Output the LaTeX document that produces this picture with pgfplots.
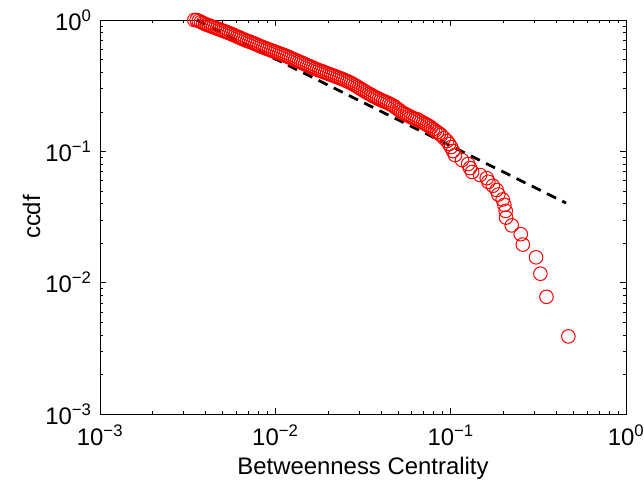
\documentclass[border=0pt]{standalone}
\usepackage{fontspec}
\setmainfont{Liberation Sans}
\usepackage{pgfplots}
\pgfplotsset{compat=1.18}
\newcommand\pw[1]{10\textsuperscript{#1}}
\begin{document}
\begin{tikzpicture}
\path[use as bounding box] (-100bp,-73bp) rectangle (544bp,414bp);
\begin{axis}[
  at={(0,0)}, anchor=south west,
  scale only axis, width=526bp, height=394bp,
  xmode=log, ymode=log,
  xmin=1e-3, xmax=1, ymin=1e-3, ymax=1,
  xtick={1e-3,1e-2,1e-1,1},
  ytick={1e-3,1e-2,1e-1,1},
  xticklabels={\pw{−3},\pw{−2},\pw{−1},\pw{0}},
  yticklabels={\pw{−3},\pw{−2},\pw{−1},\pw{0}},
  minor xtick={2e-3,3e-3,4e-3,5e-3,6e-3,7e-3,8e-3,9e-3,
               2e-2,3e-2,4e-2,5e-2,6e-2,7e-2,8e-2,9e-2,
               0.2,0.3,0.4,0.5,0.6,0.7,0.8,0.9},
  minor ytick={2e-3,3e-3,4e-3,5e-3,6e-3,7e-3,8e-3,9e-3,
               2e-2,3e-2,4e-2,5e-2,6e-2,7e-2,8e-2,9e-2,
               0.2,0.3,0.4,0.5,0.6,0.7,0.8,0.9},
  tick align=inside,
  major tick length=6bp, minor tick length=3.5bp,
  tick style={black, line width=0.6bp},
  axis line style={black, line width=0.8bp},
  ticklabel style={font=\fontsize{24}{28}\selectfont},
  xticklabel style={yshift=-7bp},
  yticklabel style={xshift=-5bp},
  label style={font=\fontsize{24}{28}\selectfont},
  xlabel={Betweenness Centrality},
  xlabel style={yshift=-5bp},
  ylabel={ccdf},
  ylabel style={yshift=-2bp},
  clip=false,
]
% empirical ccdf of betweenness centrality
\addplot[only marks, mark=o, mark size=6.8bp, red, mark options={line width=1bp}]
coordinates {
(0.00345,1.0)
(0.00356,1.0) (0.00366,0.985) (0.00377,0.9655) (0.00387,0.948) (0.00397,0.9323)
(0.00408,0.920) (0.00419,0.9080) (0.00430,0.896) (0.00441,0.8845) (0.00453,0.873)
(0.00465,0.8615) (0.00477,0.850) (0.00490,0.8391) (0.00503,0.828) (0.00517,0.8173)
(0.00530,0.806) (0.00544,0.7962) (0.00559,0.784) (0.00574,0.7727) (0.00589,0.761)
(0.00605,0.7487) (0.00621,0.738) (0.00637,0.7268) (0.00654,0.715) (0.00672,0.7042)
(0.00690,0.695) (0.00708,0.6859) (0.00727,0.677) (0.00746,0.6680) (0.00766,0.658)
(0.00786,0.6484) (0.00807,0.638) (0.00829,0.6283) (0.00851,0.620) (0.00873,0.6119)
(0.00897,0.604) (0.00921,0.5960) (0.00945,0.588) (0.00970,0.5805) (0.00996,0.573)
(0.01023,0.5655) (0.01050,0.558) (0.01078,0.5508) (0.01107,0.544) (0.01136,0.5365)
(0.01166,0.529) (0.01197,0.5208) (0.01229,0.513) (0.01262,0.5047) (0.01296,0.497)
(0.01330,0.4898) (0.01366,0.482) (0.01402,0.4746) (0.01439,0.468) (0.01477,0.4606)
(0.01517,0.453) (0.01557,0.4463) (0.01598,0.440) (0.01641,0.4332) (0.01684,0.426)
(0.01729,0.4198) (0.01776,0.414) (0.01823,0.4089) (0.01871,0.404) (0.01921,0.3983)
(0.01972,0.393) (0.02025,0.3879) (0.02079,0.383) (0.02134,0.3778) (0.02191,0.373)
(0.02249,0.3680) (0.02309,0.363) (0.02371,0.3584) (0.02434,0.353) (0.02498,0.3479)
(0.02565,0.342) (0.02633,0.3371) (0.02703,0.331) (0.02775,0.3243) (0.02849,0.318)
(0.02925,0.3114) (0.03003,0.305) (0.03083,0.2981) (0.03165,0.292) (0.03249,0.2853)
(0.03336,0.280) (0.03424,0.2746) (0.03516,0.269) (0.03609,0.2637) (0.03705,0.259)
(0.03804,0.2546) (0.03905,0.250) (0.04009,0.2458) (0.04116,0.242) (0.04225,0.2386)
(0.04338,0.235) (0.04453,0.2312) (0.04572,0.227) (0.04693,0.2232) (0.04818,0.217)
(0.04946,0.2118) (0.05078,0.206) (0.05213,0.2009) (0.05352,0.196) (0.05494,0.1923)
(0.05640,0.189) (0.05790,0.1857) (0.05944,0.182) (0.06102,0.1793) (0.06265,0.177)
(0.06431,0.1756) (0.06602,0.172) (0.06778,0.1686) (0.06958,0.165) (0.07145,0.1622)
(0.07335,0.159) (0.07530,0.1558) (0.07730,0.152) (0.07936,0.1478) (0.08148,0.144)
(0.08364,0.1403) (0.08587,0.137) (0.08815,0.1331) (0.09169,0.1263) (0.09539,0.1198)
(0.09792,0.1137) (0.1005,0.1078) (0.1032,0.1005) (0.1059,0.0937) (0.1161,0.0858)
(0.1257,0.0800) (0.1290,0.0746) (0.1325,0.0696) (0.1472,0.0660) (0.1607,0.0625)
(0.164,0.0586) (0.174,0.0547) (0.183,0.0508) (0.187,0.0469) (0.198,0.0430)
(0.2024,0.0391) (0.206,0.0352) (0.207,0.0313) (0.223,0.0273) (0.251,0.0234)
(0.258,0.0195) (0.307,0.0156) (0.325,0.0117) (0.352,0.0078) (0.469,0.0039)
};
% power-law fit
\addplot[black, line width=2.8bp, dash pattern=on 10bp off 7bp]
coordinates {(0.00356,1.0) (0.455,0.0404)};
\end{axis}
\end{tikzpicture}
\end{document}
